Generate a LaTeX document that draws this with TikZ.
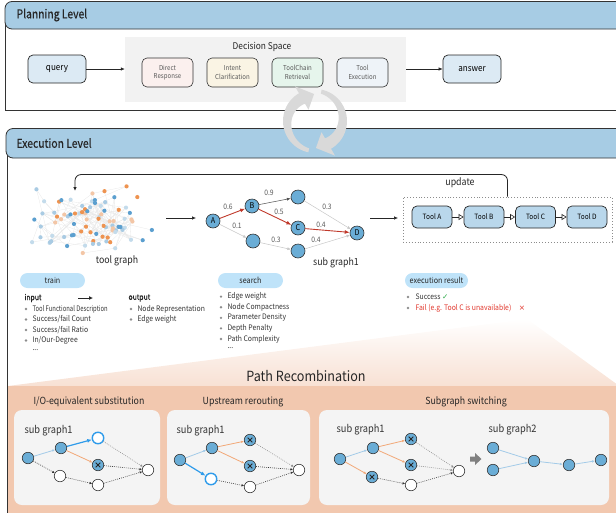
\documentclass[tikz,border=0pt]{standalone}
\usepackage{fontspec}
\usepackage{graphicx}
\setmainfont{Noto Sans CJK SC}[FakeStretch=0.9]
\newfontfamily\hdrfont{Noto Sans CJK SC}[FakeStretch=0.85, FakeBold=0.5]
\newfontfamily\symfont{DejaVu Sans}
\usetikzlibrary{arrows.meta,calc}
\definecolor{hdrblue}{HTML}{A7CCE4}
\definecolor{qblue}{HTML}{DCEAF4}
\definecolor{toolblue}{HTML}{B9D7EB}
\definecolor{pillblue}{HTML}{BFE3F9}
\definecolor{nblue}{HTML}{6AADD6}
\definecolor{redE}{HTML}{C0392B}
\definecolor{oraE}{HTML}{F2A877}
\definecolor{lbE}{HTML}{A3CBE8}
\definecolor{bbE}{HTML}{2F9BEA}
\definecolor{peachA}{HTML}{F6DACA}
\definecolor{peachB}{HTML}{F2C8AF}
\definecolor{panelG}{HTML}{F4F4F4}
\definecolor{dsG}{HTML}{F2F2F2}
\definecolor{rotG}{HTML}{D9D9D9}
\definecolor{okG}{HTML}{2EAA4A}
\definecolor{failR}{HTML}{E0362C}
\definecolor{tgA}{HTML}{5B9FCF}
\definecolor{tgB}{HTML}{EE9350}
\definecolor{tgC}{HTML}{F3C6A6}
\definecolor{tgD}{HTML}{A9CBE3}
\definecolor{fDR}{HTML}{FBF0EE}
\definecolor{fIC}{HTML}{FAF4E4}
\definecolor{fTR}{HTML}{E6F5EC}
\definecolor{fTE}{HTML}{EEF3F8}
\tikzset{
 hdr/.style={fill=hdrblue, draw=black!80, line width=0.8pt, rounded corners=7pt},
 frameline/.style={draw=black!80, line width=0.8pt},
 hdrtext/.style={anchor=west, font=\hdrfont\fontsize{12.2}{14}\selectfont, text=black!85},
 qbox/.style={draw=black!85, line width=0.7pt, rounded corners=5pt, fill=qblue, minimum width=58pt, minimum height=28pt, font=\fontsize{9}{11}\selectfont},
 dbox/.style={draw=black!80, line width=0.6pt, rounded corners=5pt, minimum width=51pt, minimum height=29pt, align=center, font=\fontsize{6.8}{8.5}\selectfont, text=black!65},
 arr/.style={-{Latex[length=4pt,width=3.5pt]}, line width=0.6pt, draw=black!85},
 gn/.style={circle, draw=black!80, fill=nblue, minimum size=14pt, inner sep=0pt, line width=0.6pt, font=\fontsize{8}{9}\selectfont},
 wl/.style={font=\fontsize{7.5}{9}\selectfont, text=black!65},
 sgred/.style={draw=redE, line width=0.9pt, -{Latex[length=5pt,width=4pt]}},
 sgdark/.style={draw=black!70, line width=0.5pt, -{Latex[length=4pt,width=3pt]}},
 sglight/.style={draw=black!22, line width=0.5pt, -{Latex[length=3.5pt,width=3pt]}},
 toolbox/.style={draw=black!85, line width=0.7pt, rounded corners=5pt, fill=toolblue, minimum width=40pt, minimum height=22pt, font=\fontsize{7.3}{9}\selectfont},
 tarr/.style={-{Triangle[open,length=5pt,width=6pt]}, line width=0.6pt, draw=black!85},
 pill/.style={fill=pillblue, rounded corners=7.5pt, minimum height=15pt, font=\fontsize{8}{9}\selectfont, text=black!85},
 lbl/.style={anchor=west, font=\fontsize{7.6}{9}\selectfont, text=black!80},
 blbl/.style={anchor=west, font=\hdrfont\fontsize{8}{9}\selectfont, text=black!85},
 bul/.style={circle, fill=black!45, inner sep=0pt, minimum size=2.6pt},
 mlabel/.style={font=\fontsize{9.8}{11}\selectfont, text=black!85},
 panel/.style={fill=panelG, rounded corners=8pt},
 pbase/.style={circle, draw=black!80, line width=0.6pt, minimum size=11.5pt, inner sep=0pt},
 pn/.style={pbase, fill=nblue},
 pw/.style={pbase, fill=white},
 pb/.style={pbase, fill=white, draw=bbE, line width=1.4pt},
 px/.style={pbase, fill=nblue, path picture={
   \draw[line width=0.9pt, black!85] ([shift={(-2.3pt,-2.3pt)}]path picture bounding box.center) -- ++(4.6pt,4.6pt)
   ([shift={(-2.3pt,2.3pt)}]path picture bounding box.center) -- ++(4.6pt,-4.6pt);}},
 lbe/.style={draw=lbE, line width=0.8pt, -{Latex[length=3pt,width=2.5pt]}},
 ore/.style={draw=oraE, line width=0.8pt, -{Latex[length=3pt,width=2.5pt]}},
 bbe/.style={draw=bbE, line width=1.2pt, -{Latex[length=4.5pt,width=4pt]}},
 dte/.style={draw=black!80, line width=0.6pt, dash pattern=on 0.8pt off 1.2pt, -{Latex[length=2.5pt,width=2.5pt]}},
 gdte/.style={draw=black!45, line width=0.6pt, dash pattern=on 0.8pt off 1.2pt, -{Latex[length=2.5pt,width=2.5pt]}},
 sgtext/.style={anchor=west, font=\fontsize{10.3}{12}\selectfont, text=black!80},
}
\begin{document}
\begin{tikzpicture}[x=1pt,y=-1pt]
\useasboundingbox (0,0) rectangle (616,512);
% ---------------- Planning level
\draw[frameline] (5,15) -- (5,110) -- (640,110);
\draw[hdr] (5,29) rectangle (640,1.5);
\node[hdrtext] (plh) at (13,15) {Planning Level};
\node[fill=dsG, minimum width=281pt, minimum height=65pt, inner sep=0pt] (ds) at (265.5,69.5) {};
\node[font=\fontsize{9.3}{11}\selectfont, text=black!85] (dsl) at (262,47) {Decision Space};
\node[qbox] (query) at (57,69) {query};
\node[qbox] (answer) at (472,69) {answer};
\node[dbox, fill=fDR] (dr) at (167.5,72.5) {Direct\\Response};
\node[dbox, fill=fIC] (ic) at (232.5,72.5) {Intent\\Clarification};
\node[dbox, fill=fTR] (tr) at (297.5,72.5) {ToolChain\\Retrieval};
\node[dbox, fill=fTE] (te) at (362.5,72.5) {Tool\\Execution};
\draw[arr] (query.east) -- (query.east -| ds.west);
\draw[arr] (answer.west -| ds.east) -- (answer.west);
% ---------------- Execution level
\draw[frameline] (7,143) -- (7,530);
\draw[hdr] (6,158) rectangle (640,128.5);
\node[hdrtext] (elh) at (13,143) {Execution Level};
% tool graph
\pgfmathsetseed{11}
\foreach \i in {1,...,85}{
  \pgfmathsetmacro\px{90+68*(rand+rand)/2}
  \pgfmathsetmacro\py{219+40*(rand+rand)/2}
  \expandafter\xdef\csname tpx\i\endcsname{\px}
  \expandafter\xdef\csname tpy\i\endcsname{\py}
  \coordinate (t\i) at (\px,\py);
}
\foreach \i in {1,...,85}{
  \foreach \k in {1,2,3}{
    \pgfmathtruncatemacro\j{random(1,85)}
    \pgfmathsetmacro\dd{veclen(\csname tpx\i\endcsname-\csname tpx\j\endcsname,\csname tpy\i\endcsname-\csname tpy\j\endcsname)}
    \ifdim\dd pt<45pt
      \draw[black!9, line width=0.3pt] (t\i) -- (t\j);
    \fi
  }
}
\foreach \i in {1,...,85}{
  \pgfmathtruncatemacro\c{random(1,5)}
  \ifcase\c\or
    \fill[tgA] (t\i) circle (2.1);\or
    \fill[tgB] (t\i) circle (2.1);\or
    \fill[tgC] (t\i) circle (2.1);\or
    \fill[tgD] (t\i) circle (2.1);\or
    \fill[tgD!70] (t\i) circle (2.1);\fi
}
\node[mlabel] (tgl) at (117,261) {tool graph};
\coordinate (tgfb) at (75,191);
\coordinate (tgr) at (166,218);
\coordinate (sgl) at (196,218);
\draw[arr] (tgr) -- (sgl);
% sub graph
\node[gn] (A) at (213,221) {A};
\node[gn] (B) at (252,206) {B};
\node[gn] (U) at (298,197) {};
\node[gn] (C) at (298,228) {C};
\node[gn] (L) at (253,241) {};
\node[gn] (R) at (298,251) {};
\node[gn] (D) at (357,233) {D};
\draw[sgred] (A) -- (B);
\draw[sgdark] (B) -- (U);
\draw[sgred] (B) -- (C);
\draw[sgred] (C) -- (D);
\draw[sglight] (U) -- (D);
\draw[sglight] (A) -- (L);
\draw[sglight] (L) -- (R);
\draw[sglight] (R) -- (D);
\node[wl] (w1) at (228,207) {0.6};
\node[wl] (w2) at (269,193) {0.9};
\node[wl] (w3) at (279,212) {0.5};
\node[wl] (w4) at (321,225) {0.4};
\node[wl] (w5) at (327,207) {0.3};
\node[wl] (w6) at (237,226) {0.1};
\node[wl] (w7) at (276,240) {0.3};
\node[wl] (w8) at (316,240) {0.4};
\node[mlabel] (sgl1) at (336,263) {sub graph1};
\coordinate (sgr) at (370,218);
\coordinate (sgre) at (398,218);
% tool chain
\node[draw=black!45, dotted, line width=0.9pt, minimum width=209pt, minimum height=45pt, inner sep=0pt] (tbox) at (507.5,219.5) {};
\draw[arr] (sgr) -- (sgre);
\node[toolbox] (ta) at (432,217) {Tool A};
\node[toolbox] (tb) at (484,217) {Tool B};
\node[toolbox] (tc) at (535.5,217) {Tool C};
\node[toolbox] (td) at (587,217) {Tool D};
\draw[tarr] (ta) -- (tb);
\draw[tarr] (tb) -- (tc);
\draw[tarr] (tc) -- (td);
\draw[arr, line width=0.8pt, rounded corners=6pt] (tbox.north) -- ++(0,-22) -| (tgfb);
\node[mlabel] (upd) at (460,183) {update};
% train
\node[pill, minimum width=65pt] (train) at (52.5,280.5) {train};
\node[blbl] (inp) at (21,298) {input};
\coordinate (ia) at (78,298);
\coordinate (ib) at (93,298);
\draw[-{Latex[length=4pt,width=4pt]}, line width=0.9pt, black!85] (ia) -- (ib);
\node[blbl] (outp) at (125,298) {output};
\foreach \t [count=\n] in {{\scalebox{0.86}[1]{Tool Functional Description}}, Success/fail Count, Success/fail Ratio, In/Our-Degree}{
  \node[bul] (ib\n) at (26,298.5+10.5*\n) {};
  \node[lbl] (it\n) at (29,298.5+10.5*\n) {\t};
}
\node[lbl] (idots) at (29,350) {...};
\foreach \t [count=\n] in {Node Representation, Edge weight}{
  \node[bul] (ob\n) at (131,298.5+10.5*\n) {};
  \node[lbl] (ot\n) at (134,298.5+10.5*\n) {\t};
}
% search
\node[pill, minimum width=65pt] (search) at (250.5,280.5) {search};
\foreach \t [count=\n] in {Edge weight, Node Compactness, Parameter Density, Depth Penalty, Path Complexity}{
  \node[bul] (sb\n) at (221,286+10.6*\n) {};
  \node[lbl] (st\n) at (224,286+10.6*\n) {\t};
}
\node[lbl] (sdots) at (224,348) {...};
% execution result (peach shape first)
\shade[top color=white, bottom color=peachA] (8,386) -- (527,319) -- (640,401) -- (640,386) -- cycle;
\fill[peachB] (8,386) rectangle (640,530);
\node[pill, minimum width=63pt] (exr) at (436.5,280.5) {execution result};
\node[bul] (eb1) at (408,297) {};
\node[lbl] (et1) at (412,297) {Success \textcolor{okG}{\symfont\bfseries\fontsize{7.5}{8}\selectfont ✓}};
\node[bul] (eb2) at (408,308) {};
\node[lbl, text=failR] (et2) at (412,308) {Fail (e.g. Tool C is unavailable)\quad{\symfont\fontsize{7.5}{8}\selectfont ×}};
% path recombination
\node[font=\fontsize{14}{16}\selectfont, text=black!85] (prt) at (306,376) {Path Recombination};
\node[mlabel] (p1t) at (89,402) {I/O-equivalent substitution};
\node[mlabel] (p2t) at (243,402) {Upstream rerouting};
\node[mlabel] (p3t) at (466,402) {Subgraph switching};
\fill[panel] (14,410) rectangle (160,505);
\fill[panel] (167,410) rectangle (310,505);
\fill[panel] (319,410) rectangle (609,505);
\node[sgtext] (s1) at (21,431) {sub graph1};
\node[sgtext] (s2) at (173,431) {sub graph1};
\node[sgtext] (s3) at (333,430) {sub graph1};
\node[sgtext] (s4) at (485,430) {sub graph2};
% panel 1
\node[pn] (a1) at (28,458) {};
\node[pn] (a2) at (61,448) {};
\node[pb] (a3) at (98,438) {};
\node[px] (a4) at (98,465) {};
\node[pw] (a5) at (60,476) {};
\node[pw] (a6) at (98,485) {};
\node[pw] (a7) at (148,470) {};
\draw[lbe] (a1) -- (a2);
\draw[bbe] (a2) -- (a3);
\draw[ore] (a2) -- (a4);
\draw[dte] (a1) -- (a5);
\draw[dte] (a5) -- (a6);
\draw[gdte] (a3) -- (a7);
\draw[dte] (a4) -- (a7);
\draw[dte] (a6) -- (a7);
% panel 2
\node[pn] (b1) at (180,460) {};
\node[pn] (b2) at (212,448) {};
\node[px] (b3) at (250,440) {};
\node[px] (b4) at (250,466) {};
\node[pb] (b5) at (211,479) {};
\node[pw] (b6) at (250,487) {};
\node[pw] (b7) at (299,470) {};
\draw[lbe] (b1) -- (b2);
\draw[ore] (b2) -- (b3);
\draw[ore] (b2) -- (b4);
\draw[bbe] (b1) -- (b5);
\draw[dte] (b5) -- (b6);
\draw[gdte] (b3) -- (b7);
\draw[dte] (b4) -- (b7);
\draw[dte] (b6) -- (b7);
% panel 3
\node[pn] (c1) at (340,459) {};
\node[pn] (c2) at (373,448) {};
\node[px] (c3) at (411,439) {};
\node[px] (c4) at (411,465) {};
\node[px] (c5) at (372,477) {};
\node[pw] (c6) at (411,485) {};
\node[pw] (c7) at (459,471) {};
\draw[lbe] (c1) -- (c2);
\draw[ore] (c1) -- (c5);
\draw[ore] (c2) -- (c3);
\draw[ore] (c2) -- (c4);
\draw[dte] (c5) -- (c6);
\draw[gdte] (c3) -- (c7);
\draw[gdte] (c4) -- (c7);
\draw[dte] (c6) -- (c7);
\fill[black!50] (470,456.5) -- (475,456.5) -- (475,453) -- (481.5,459) -- (475,465) -- (475,461.5) -- (470,461.5) -- cycle;
\node[pn] (d1) at (493,448) {};
\node[pn] (d2) at (493,470) {};
\node[pn] (d3) at (534,461) {};
\node[pn] (d4) at (569,465) {};
\node[pn] (d5) at (601,460) {};
\draw[lbe] (d1) -- (d3);
\draw[lbe] (d2) -- (d3);
\draw[lbe] (d3) -- (d4);
\draw[lbe] (d4) -- (d5);
% rotation arrows
\coordinate (rc) at (315,121);
\begin{scope}[shift={(rc)}]
\fill[rotG] plot[domain=102:240, samples=30] (\x:32) -- (240:40) -- (268:27) -- (240:13) -- plot[domain=240:102, samples=30] (\x:{28-8*(\x-102)/138}) -- cycle;
\fill[rotG] plot[domain=282:420, samples=30] (\x:32) -- (420:40) -- (448:27) -- (420:13) -- plot[domain=420:282, samples=30] (\x:{28-8*(\x-282)/138}) -- cycle;
\end{scope}
\end{tikzpicture}
\end{document}
